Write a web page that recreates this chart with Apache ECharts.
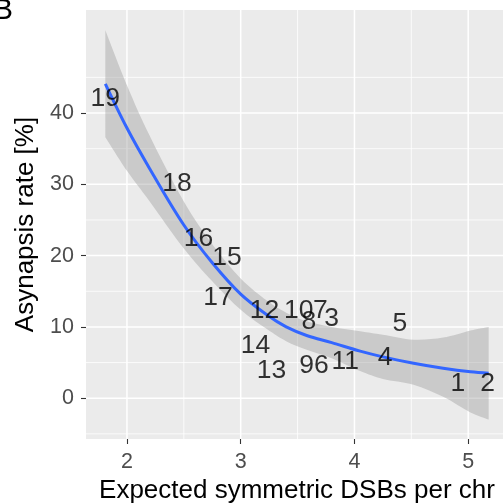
<!DOCTYPE html>
<html>
<head>
<meta charset="utf-8">
<script src="https://cdn.jsdelivr.net/npm/echarts@6.0.0/dist/echarts.min.js"></script>
<style>
  html, body { margin: 0; padding: 0; background: #fff; }
  #chart { width: 503px; height: 504px; }
  #tag { position: absolute; left: -7px; top: -8px; font: 30px "Liberation Sans", Arial, sans-serif; color: #000; }
</style>
</head>
<body>
<div id="chart"></div>
<div id="tag">B</div>
<script>
// chromosome labels and their positions
var chrNames = ['19', '18', '16', '15', '17', '12', '10', '7', '8', '3', '5', '14', '13', '9', '6', '11', '4', '1', '2'];
var chrDSB   = [1.81, 2.44, 2.63, 2.88, 2.80, 3.21, 3.51, 3.70, 3.60, 3.80, 4.40, 3.13, 3.27, 3.58, 3.71, 3.92, 4.27, 4.91, 5.17];
var chrRate  = [42.3, 30.3, 22.7, 20.0, 14.4, 12.5, 12.6, 12.6, 11.0, 11.5, 10.7, 7.7, 4.2, 4.9, 4.9, 5.35, 6.0, 2.3, 2.3];

// loess fit + confidence band
var fitX     = [1.81, 2.0, 2.2, 2.5, 2.75, 3.0, 3.23, 3.4, 3.58, 3.8, 4.05, 4.25, 4.52, 4.78, 5.02, 5.18];
var fitY     = [44.1, 37.9, 32.2, 24.3, 19.0, 14.6, 11.7, 10.0, 8.8, 7.8, 6.6, 5.8, 4.9, 4.2, 3.7, 3.5];
var fitUpper = [51.6, 43.9, 36.8, 27.6, 21.6, 16.8, 13.7, 12.0, 10.8, 10.0, 9.4, 8.9, 8.2, 8.5, 9.5, 10.0];
var fitLower = [36.6, 31.9, 27.6, 21.0, 16.4, 12.4, 9.7, 8.0, 6.8, 5.6, 3.8, 2.7, 1.9, 0.2, -2.0, -3.0];

var xTicks = [2, 3, 4, 5];
var yTicks = [0, 10, 20, 30, 40];
var xMinor = [2.5, 3.5, 4.5];
var yMinor = [-5, 5, 15, 25, 35, 45];

var font = '"Liberation Sans", Arial, sans-serif';

// catmull-rom through pixel points -> bezier path commands
function spline(pts) {
  var s = '';
  for (var i = 0; i < pts.length - 1; i++) {
    var p0 = pts[Math.max(i - 1, 0)], p1 = pts[i], p2 = pts[i + 1], p3 = pts[Math.min(i + 2, pts.length - 1)];
    var c1 = [p1[0] + (p2[0] - p0[0]) / 6, p1[1] + (p2[1] - p0[1]) / 6];
    var c2 = [p2[0] - (p3[0] - p1[0]) / 6, p2[1] - (p3[1] - p1[1]) / 6];
    s += ' C' + c1[0] + ' ' + c1[1] + ' ' + c2[0] + ' ' + c2[1] + ' ' + p2[0] + ' ' + p2[1];
  }
  return s;
}

function gridRender(params, api) {
  var cs = params.coordSys;
  var kids = [];
  function vline(v, w) {
    var px = api.coord([v, 0])[0];
    kids.push({ type: 'line', shape: { x1: px, y1: cs.y, x2: px, y2: cs.y + cs.height }, style: { stroke: '#ffffff', lineWidth: w } });
  }
  function hline(v, w) {
    var py = api.coord([2, v])[1];
    kids.push({ type: 'line', shape: { x1: cs.x, y1: py, x2: cs.x + cs.width, y2: py }, style: { stroke: '#ffffff', lineWidth: w } });
  }
  xMinor.forEach(function (v) { vline(v, 0.8); });
  yMinor.forEach(function (v) { hline(v, 0.8); });
  xTicks.forEach(function (v) { vline(v, 1.5); });
  yTicks.forEach(function (v) { hline(v, 1.5); });
  return { type: 'group', children: kids };
}

var option = {
  animation: false,
  backgroundColor: '#ffffff',
  grid: {
    left: 86, right: -5, top: 10, bottom: 65, outerBoundsMode: 'none', containLabel: false,
    show: true, backgroundColor: '#ebebeb', borderWidth: 0
  },
  xAxis: {
    type: 'value', min: 1.64, max: 5.35,
    name: 'Expected symmetric DSBs per chr', nameLocation: 'middle', nameGap: 39,
    nameTextStyle: { color: '#000', fontSize: 26, fontFamily: font },
    axisLine: { show: false, onZero: false },
    axisTick: { show: true, customValues: xTicks, length: 5, lineStyle: { color: '#333', width: 1.1 } },
    axisLabel: { customValues: xTicks, color: '#4d4d4d', fontSize: 21.5, fontFamily: font, margin: 12 },
    splitLine: { show: false }
  },
  yAxis: {
    type: 'value', min: -5.72, max: 54.45,
    name: 'Asynapsis rate [%]', nameLocation: 'middle', nameGap: 45,
    nameTextStyle: { color: '#000', fontSize: 26, fontFamily: font },
    axisLine: { show: false, onZero: false },
    axisTick: { show: true, customValues: yTicks, length: 5, lineStyle: { color: '#333', width: 1.1 } },
    axisLabel: { customValues: yTicks, color: '#4d4d4d', fontSize: 21.5, fontFamily: font, margin: 12 },
    splitLine: { show: false }
  },
  series: [
    {
      type: 'custom', z: 1, silent: true,
      data: [[fitX[0], fitY[0]]],
      renderItem: gridRender
    },
    {
      type: 'custom', z: 2, silent: true,
      data: [[fitX[0], fitY[0]]],
      renderItem: function (params, api) {
        var up = [], lo = [];
        for (var i = 0; i < fitX.length; i++) {
          up.push(api.coord([fitX[i], fitUpper[i]]));
          lo.push(api.coord([fitX[i], fitLower[i]]));
        }
        lo.reverse();
        var d = 'M' + up[0][0] + ' ' + up[0][1] + spline(up) +
                ' L' + lo[0][0] + ' ' + lo[0][1] + spline(lo) + ' Z';
        return { type: 'path', shape: { pathData: d }, style: { fill: 'rgba(153,153,153,0.4)' } };
      }
    },
    {
      type: 'line', z: 3, silent: true,
      data: fitX.map(function (x, i) { return [x, fitY[i]]; }),
      smooth: 0.35, showSymbol: false, symbol: 'none',
      lineStyle: { color: '#3366ff', width: 3 }
    },
    {
      type: 'scatter', z: 4, silent: true,
      data: chrNames.map(function (n, i) { return { name: n, value: [chrDSB[i], chrRate[i]] }; }),
      symbolSize: 1,
      itemStyle: { color: 'rgba(0,0,0,0)' },
      label: {
        show: true, position: 'inside', formatter: '{b}', offset: [0, 2],
        color: '#000', fontSize: 26.5, fontFamily: font, align: 'center', verticalAlign: 'middle'
      }
    }
  ]
};

var chart = echarts.init(document.getElementById('chart'));
chart.setOption(option);
</script>
</body>
</html>
